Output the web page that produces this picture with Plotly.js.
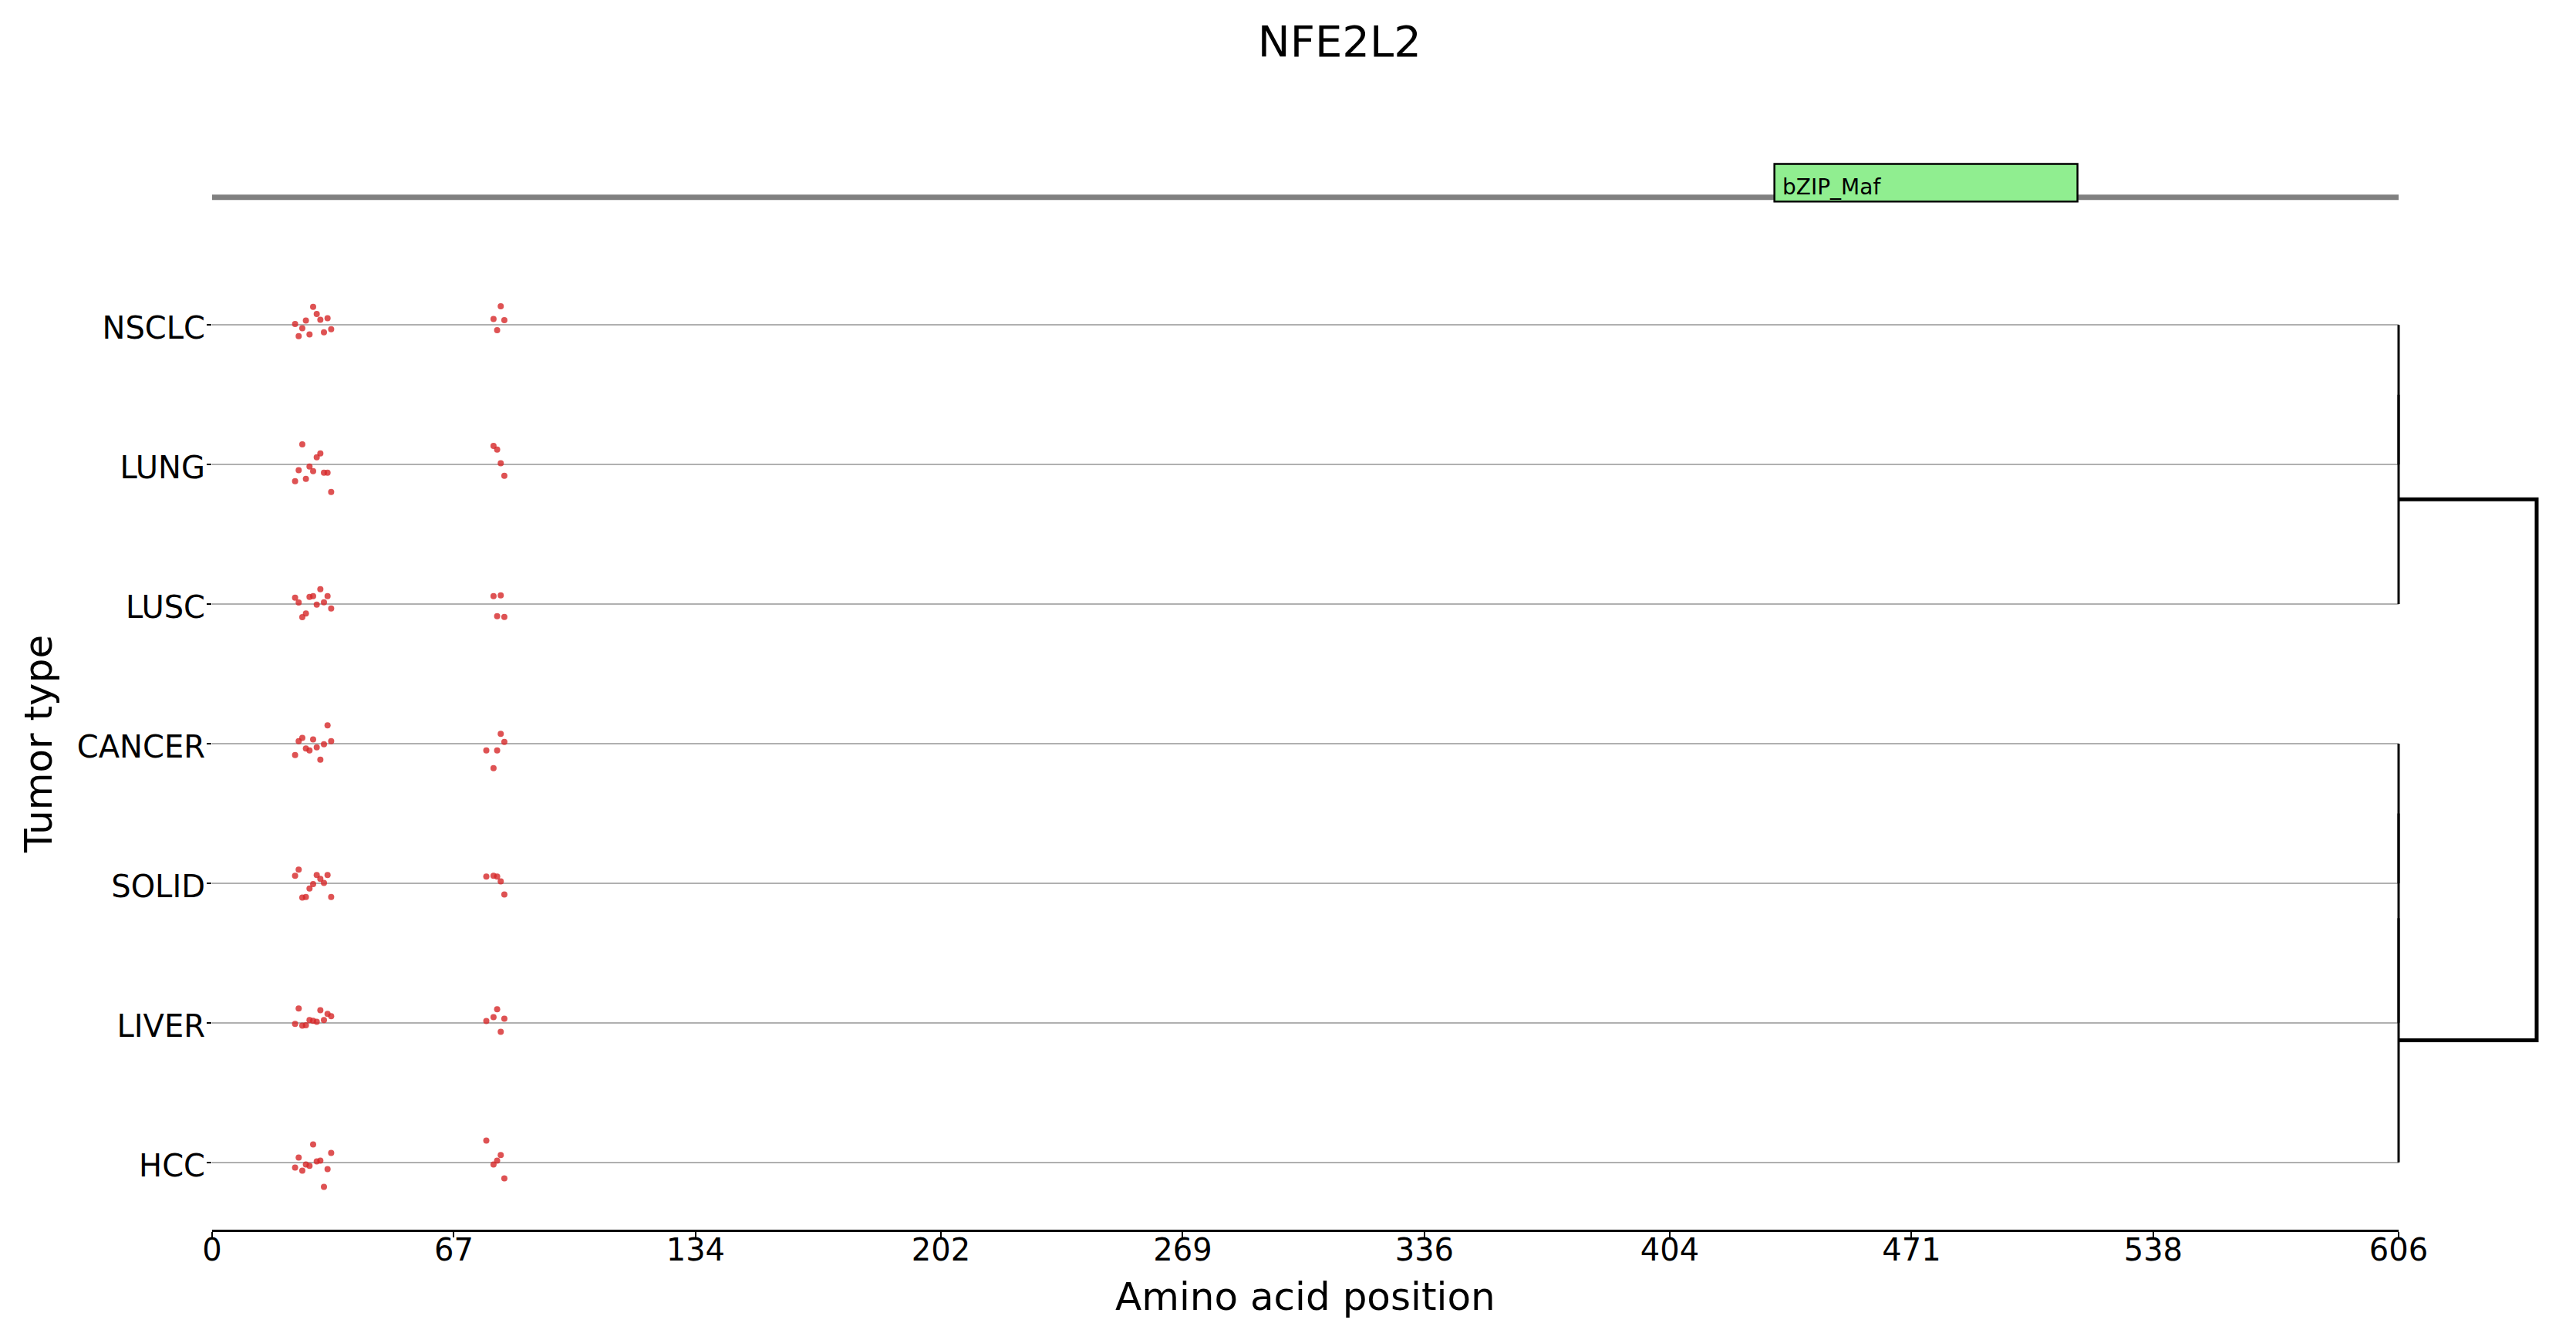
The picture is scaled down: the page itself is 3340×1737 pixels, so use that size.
<!DOCTYPE html>
<html>
<head>
<meta charset="utf-8">
<script src="https://cdn.plot.ly/plotly-3.0.1.min.js"></script>
<style>html,body{margin:0;padding:0;background:#fff;}#chart{width:3340px;height:1737px;}</style>
</head>
<body>
<div id="chart"></div>
<script>
// ---------------- data ----------------
const geneName = 'NFE2L2';
const proteinLength = 606;
const xTickVals = [0, 67, 134, 202, 269, 336, 404, 471, 538, 606];
const tumorTypes = ['NSCLC', 'LUNG', 'LUSC', 'CANCER', 'SOLID', 'LIVER', 'HCC'];

const domainNames = ['bZIP_Maf'];
const domainStart = [433];
const domainEnd = [517];

// mutation positions (amino acid) and vertical jitter (row units, + = downward) per tumour type
const pos_NSCLC  = [28, 29, 26, 30, 32, 23, 25, 33, 24, 27, 31, 80, 78, 81, 79];
const jit_NSCLC  = [-0.129, -0.079, -0.031, -0.037, -0.048, -0.007, 0.024, 0.031, 0.081, 0.068, 0.053, -0.134, -0.042, -0.035, 0.037];
const pos_LUNG   = [25, 30, 29, 27, 24, 28, 31, 32, 23, 26, 33, 78, 79, 80, 81];
const jit_LUNG   = [-0.145, -0.079, -0.052, 0.015, 0.041, 0.048, 0.059, 0.059, 0.120, 0.103, 0.197, -0.134, -0.107, -0.009, 0.081];
const pos_LUSC   = [30, 23, 24, 27, 28, 32, 29, 31, 33, 26, 25, 78, 80, 79, 81];
const jit_LUSC   = [-0.107, -0.046, -0.011, -0.052, -0.057, -0.057, 0.004, -0.013, 0.031, 0.068, 0.094, -0.057, -0.063, 0.087, 0.092];
const pos_CANCER = [32, 24, 25, 28, 33, 31, 26, 27, 29, 23, 30, 80, 81, 76, 79, 78];
const jit_CANCER = [-0.131, -0.018, -0.041, -0.031, -0.018, 0.004, 0.035, 0.048, 0.026, 0.081, 0.114, -0.070, -0.013, 0.048, 0.048, 0.175];
const pos_SOLID  = [24, 23, 29, 32, 30, 31, 28, 27, 25, 26, 33, 76, 78, 79, 80, 81];
const jit_SOLID  = [-0.098, -0.053, -0.059, -0.059, -0.031, -0.002, 0.006, 0.037, 0.103, 0.098, 0.098, -0.048, -0.053, -0.048, -0.013, 0.081];
const pos_LIVER  = [24, 30, 32, 33, 27, 28, 29, 31, 23, 25, 26, 79, 78, 81, 76, 80];
const jit_LIVER  = [-0.103, -0.090, -0.064, -0.048, -0.020, -0.015, -0.007, -0.020, 0.007, 0.020, 0.017, -0.098, -0.041, -0.029, -0.013, 0.064];
const pos_HCC    = [28, 24, 33, 29, 30, 26, 27, 23, 25, 32, 31, 76, 80, 79, 78, 81];
const jit_HCC    = [-0.129, -0.035, -0.068, -0.007, -0.013, 0.015, 0.024, 0.037, 0.059, 0.048, 0.175, -0.157, -0.053, -0.013, 0.015, 0.114];

// dendrogram links (scipy-style: leaf coordinate / merge distance)
const dendroLeafCoord = [[0, 0, 1, 1], [0.5, 0.5, 2, 2], [3, 3, 4, 4], [3.5, 3.5, 5, 5], [4.25, 4.25, 6, 6], [1.25, 1.25, 5.125, 5.125]];
const dendroDist      = [[0, 0, 0, 0], [0, 0, 0, 0], [0, 0, 0, 0], [0, 0, 0, 0], [0, 0, 0, 0], [0, 1, 1, 0]];

// ---------------- build ----------------
const FONT = 'DejaVu Sans, Liberation Sans, sans-serif';
const positions = [pos_NSCLC, pos_LUNG, pos_LUSC, pos_CANCER, pos_SOLID, pos_LIVER, pos_HCC];
const jitters = [jit_NSCLC, jit_LUNG, jit_LUSC, jit_CANCER, jit_SOLID, jit_LIVER, jit_HCC];

const traces = [];
tumorTypes.forEach((t, i) => {
  traces.push({
    type: 'scatter', mode: 'markers', name: t, showlegend: false,
    x: positions[i],
    y: jitters[i].map(j => i + j),
    xaxis: 'x', yaxis: 'y',
    marker: {size: 8, color: 'rgba(214,39,40,0.8)', line: {width: 0}},
    hoverinfo: 'x+name'
  });
});

dendroLeafCoord.forEach((yc, k) => {
  const isTop = dendroDist[k].some(d => d > 0);
  traces.push({
    type: 'scatter', mode: 'lines', showlegend: false, hoverinfo: 'skip',
    x: dendroDist[k], y: yc,
    xaxis: 'x2', yaxis: 'y2',
    line: {color: '#000', width: isTop ? 5 : 3}
  });
});

const yRange = [6.482, -1.3];
const shapes = [
  {type: 'line', xref: 'x', yref: 'y', x0: 0, x1: proteinLength, y0: -0.915, y1: -0.915,
   line: {color: '#808080', width: 7}, layer: 'above'}
];
const annotations = [];
domainNames.forEach((d, i) => {
  shapes.push({type: 'rect', xref: 'x', yref: 'y', x0: domainStart[i], x1: domainEnd[i], y0: -1.153, y1: -0.884,
    fillcolor: '#90EE90', line: {color: '#000', width: 2.5}, layer: 'above'});
  annotations.push({xref: 'x', yref: 'y', x: domainStart[i], y: -0.985, text: d, showarrow: false,
    xanchor: 'left', yanchor: 'middle', xshift: 8, font: {family: FONT, size: 28, color: '#000'}});
});
const xDomEnd = 2835 / 3025;
annotations.push({xref: 'paper', yref: 'paper', x: xDomEnd / 2, y: -0.062, text: 'Amino acid position',
  showarrow: false, xanchor: 'center', yanchor: 'middle', font: {family: FONT, size: 50, color: '#000'}});
annotations.push({xref: 'paper', yref: 'y', x: -0.0744, y: 3, text: 'Tumor type', textangle: -90,
  showarrow: false, xanchor: 'center', yanchor: 'middle', font: {family: FONT, size: 50, color: '#000'}});

const layout = {
  width: 3340, height: 1737,
  paper_bgcolor: '#fff', plot_bgcolor: 'rgba(0,0,0,0)',
  margin: {l: 275, r: 40, t: 186, b: 143},
  showlegend: false,
  font: {family: FONT, color: '#000'},
  title: {text: geneName, font: {family: FONT, size: 56, color: '#000'},
          x: 0.52, xref: 'container', xanchor: 'center', y: 0.969, yref: 'container', yanchor: 'middle'},
  xaxis: {domain: [0, xDomEnd], range: [0, proteinLength], anchor: 'y',
          tickmode: 'array', tickvals: xTickVals, ticktext: xTickVals.map(String),
          showgrid: false, zeroline: false, showline: true, linecolor: '#000', linewidth: 3,
          ticks: 'outside', ticklen: 7, tickwidth: 2, tickcolor: '#000',
          ticklabelstandoff: -18,
          tickfont: {family: FONT, size: 40, color: '#000'}},
  yaxis: {range: yRange, anchor: 'x', tickmode: 'array', tickvals: tumorTypes.map((t, i) => i), ticktext: tumorTypes,
          showgrid: true, gridcolor: '#b0b0b0', gridwidth: 2, zeroline: false, showline: false,
          ticks: 'outside', ticklen: 6, tickwidth: 2, tickcolor: '#000',
          ticklabelstandoff: -6, ticklabelshift: -4,
          tickfont: {family: FONT, size: 40, color: '#000'}},
  xaxis2: {domain: [(3110 - 0.05 * 179 - 275) / 3025, 1], range: [-0.05, 1.0615], anchor: 'y2', visible: false},
  yaxis2: {domain: [0, 1], range: yRange, anchor: 'x2', visible: false},
  shapes: shapes,
  annotations: annotations
};

Plotly.newPlot('chart', traces, layout, {staticPlot: true});
</script>
</body>
</html>
